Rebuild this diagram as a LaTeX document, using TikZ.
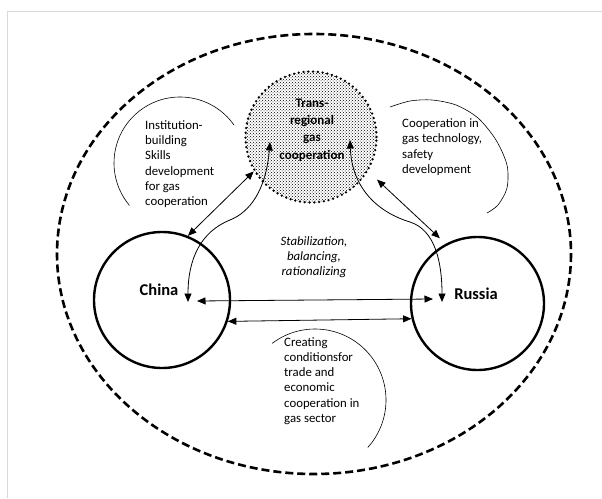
\documentclass[tikz,border=0pt]{standalone}
\usepackage{fontspec}
\setmainfont{Carlito}
\usetikzlibrary{calc,patterns,arrows.meta}
\tikzset{
  ring/.style={circle,draw,line width=2.4pt,inner sep=0pt},
  dotring/.style={circle,draw,line width=2.6pt,dash pattern=on 0pt off 4.8pt,line cap=round,
    pattern=crosshatch dots,minimum size=131pt,inner sep=0pt},
  link/.style={{Triangle[length=8.5pt,width=7pt]}-{Triangle[length=8.5pt,width=7pt]},line width=0.8pt},
  thinarc/.style={line width=0.6pt},
  txt/.style={font=\fontsize{12.8}{15.3}\selectfont,align=left,inner sep=0pt,anchor=west},
}
\begin{document}
\begin{tikzpicture}[x=1pt,y=-1pt]
\useasboundingbox (0,0) rectangle (602,498);
\draw[gray!30,line width=0.8pt] (7,498) -- (7,11) -- (602,11);
% outer frame
\draw[line width=2.6pt,dash pattern=on 8pt off 4pt] (314,254) ellipse [x radius=257,y radius=220];
% the three circles
\node[ring,minimum size=136pt] (china) at (162,300) {};
\node[ring,minimum size=133pt] (russia) at (477.5,303.5) {};
\node[dotring] (trans) at (311,137) {};
\node[align=center,inner sep=0pt,font=\fontsize{13}{17.3}\selectfont\bfseries] (transtext) at (312,130)
  {Trans-\\regional\\gas\\cooperation};
\node[font=\fontsize{16.5}{19}\selectfont\bfseries] (chinatext) at (159,290) {China};
\node[font=\fontsize{16.5}{19}\selectfont\bfseries] (russiatext) at (476,294) {Russia};
% arcs round the texts
\draw[thinarc] (180,163) ++(-35:66) arc[start angle=-35,end angle=-220,radius=66];
\draw[thinarc] plot[smooth] coordinates {(390,107) (410,101) (432,100) (456,105) (478,118)
  (496,140) (507,165) (507,188) (498,205) (487,213)};
\draw[thinarc] (315,400) ++(-127:71) arc[start angle=-127,end angle=42,radius=71];
\node[txt] (insttext) at (145,164) {Institution-\\building\\Skills\\development\\for gas\\cooperation};
\node[txt] (techtext) at (402,147) {Cooperation in\\gas technology,\\safety\\development};
\node[txt] (tradetext) at (284,381) {Creating\\conditionsfor\\trade and\\economic\\cooperation in\\gas sector};
\node[txt,anchor=center,align=center,font={\fontsize{12.8}{15.3}\selectfont\itshape}] (stabtext) at (314,257)
  {Stabilization,\\balancing,\\rationalizing};
% links
\draw[link] (china.68) -- (trans.211);
\draw[link,shorten <=8pt,shorten >=12pt] (russia.118) -- (trans.-31);
\draw[link] ([xshift=35pt,yshift=-1pt]china.center) -- ([xshift=-44.5pt,yshift=4.5pt]russia.center);
\draw[link] (china.-18) -- (russia.193);
\draw[link] ([xshift=26pt,yshift=-2pt]china.center) .. controls (188,260) and (200,232) .. (230,220)
  .. controls (250,212) and (266,190) .. ([xshift=-41pt,yshift=-5pt]trans.center);
\draw[link] ([xshift=-35.5pt,yshift=1.5pt]russia.center) .. controls (442,262) and (435,230) .. (410,222)
  .. controls (380,213) and (352,190) .. ([xshift=39pt,yshift=-3pt]trans.center);
\end{tikzpicture}
\end{document}
